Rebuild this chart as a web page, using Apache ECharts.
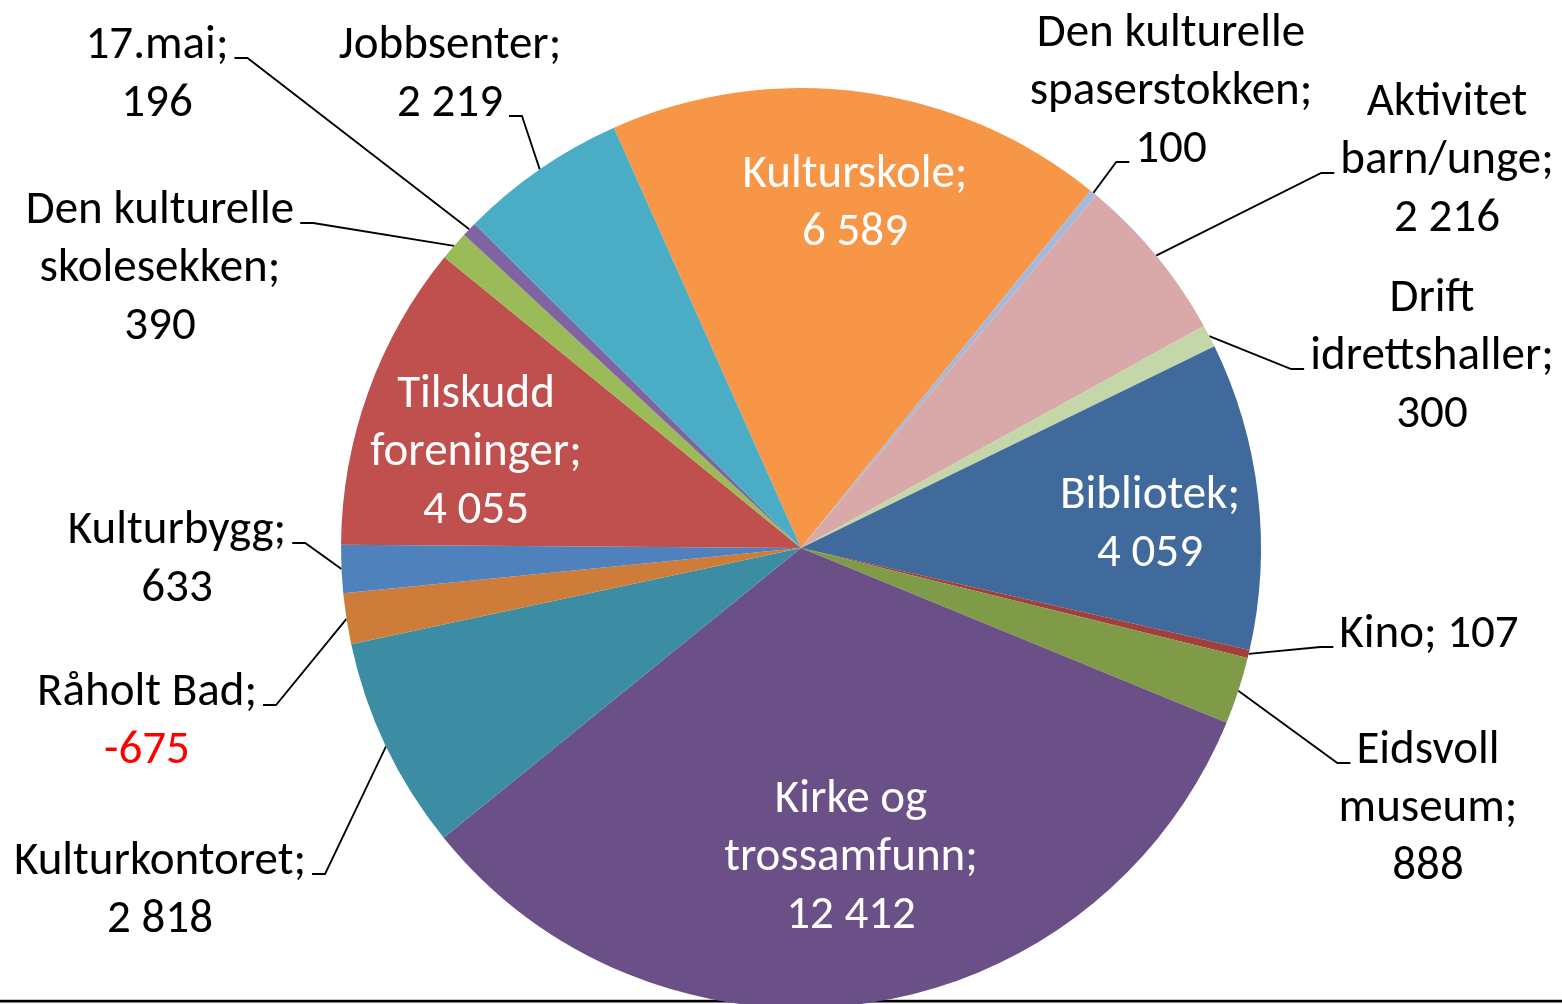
<!DOCTYPE html>
<html>
<head>
<meta charset="utf-8">
<title>Kultur - fordeling</title>
<script src="https://cdn.jsdelivr.net/npm/echarts@6/dist/echarts.min.js"></script>
<style>
  html, body { margin: 0; padding: 0; background: #fff; }
  #chart { width: 1562px; height: 1004px; }
</style>
</head>
<body>
<div id="chart"></div>
<script>
const categories = ['Kulturskole', 'Den kulturelle spaserstokken', 'Aktivitet barn/unge', 'Drift idrettshaller',
    'Bibliotek', 'Kino', 'Eidsvoll museum', 'Kirke og trossamfunn', 'Kulturkontoret', 'Råholt Bad',
    'Kulturbygg', 'Tilskudd foreninger', 'Den kulturelle skolesekken', '17.mai', 'Jobbsenter'];
const values = [6589, 100, 2216, 300, 4059, 107, 888, 12412, 2818, -675, 633, 4055, 390, 196, 2219];
const colors = ['#F79646', '#A7B9DA', '#D9A8A8', '#C4D7A8', '#416A9C', '#A23F3C', '#7F9B48', '#6A5087',
    '#3C8DA3', '#CD7C39', '#4F81BD', '#C0504D', '#9BBB59', '#8064A2', '#4BACC6'];

// where each label block sits (centre), whether the name wraps, and which line the leader hooks onto
const labelCfg = [
    { x: 855, y: 204, inside: true },
    { x: 1171, y: 92, wrap: true, hook: 2 },
    { x: 1447, y: 161, wrap: true, hook: 1 },
    { x: 1432, y: 357, wrap: true, hook: 1 },
    { x: 1150, y: 525, inside: true },
    { x: 1429, y: 635, oneLine: true, hook: 0 },
    { x: 1428, y: 809, wrap: true, hook: 0 },
    { x: 851, y: 858, wrap: true, inside: true },
    { x: 160, y: 891, hook: 0 },
    { x: 147, y: 722, hook: 0 },
    { x: 177, y: 560, hook: 0 },
    { x: 476, y: 453, wrap: true, inside: true },
    { x: 160, y: 269, wrap: true, hook: 0 },
    { x: 157, y: 75, hook: 0 },
    { x: 450, y: 75, hook: 1 }
];

const FONT = 'Carlito, Calibri, Lato, sans-serif';
const FONT_SIZE = 47;
const LINE_H = 58;

function fmt(v) {
    return (v < 0 ? '-' : '') + String(Math.abs(v)).replace(/\B(?=(\d{3})+(?!\d))/g, ' ');
}

function labelLines(i) {
    const cfg = labelCfg[i];
    const name = categories[i];
    let lines;
    if (cfg.wrap) {
        const k = name.lastIndexOf(' ');
        lines = [name.slice(0, k), name.slice(k + 1) + ';'];
    } else {
        lines = [name + ';'];
    }
    if (cfg.oneLine) lines[lines.length - 1] += ' ' + fmt(values[i]);
    else lines.push(fmt(values[i]));
    return lines;
}

const ctx = document.createElement('canvas').getContext('2d');
ctx.font = FONT_SIZE + 'px ' + FONT;

const chart = echarts.init(document.getElementById('chart'));

const data = categories.map((name, i) => {
    const inside = !!labelCfg[i].inside;
    return {
        name: name,
        value: Math.abs(values[i]),
        itemStyle: { color: colors[i] },
        label: { position: inside ? 'inside' : 'outside', color: inside ? '#fff' : '#000' },
        labelLine: { show: !inside }
    };
});

const option = {
    animation: false,
    graphic: [
        { type: 'rect', z: 0, shape: { x: 0, y: 999, width: 1562, height: 1 }, style: { fill: '#c8c8c8' } },
        { type: 'rect', z: 0, shape: { x: 0, y: 1000, width: 1562, height: 2.5 }, style: { fill: '#000' } }
    ],
    series: [{
        type: 'pie',
        center: [801, 548],
        radius: 460,
        startAngle: 114,
        clockwise: true,
        avoidLabelOverlap: false,
        emphasis: { disabled: true },
        itemStyle: { borderWidth: 0 },
        data: data,
        label: {
            fontFamily: FONT,
            fontSize: FONT_SIZE,
            lineHeight: LINE_H,
            formatter: function (p) {
                const lines = labelLines(p.dataIndex);
                if (values[p.dataIndex] < 0) {
                    lines[lines.length - 1] = '{neg|' + lines[lines.length - 1] + '}';
                }
                return lines.join('\n');
            },
            rich: {
                neg: { color: '#ff0000', fontFamily: FONT, fontSize: FONT_SIZE, lineHeight: LINE_H }
            }
        },
        labelLine: {
            show: true,
            length: 10,
            length2: 10,
            lineStyle: { color: '#000', width: 1.8 }
        },
        labelLayout: function (p) {
            const cfg = labelCfg[p.dataIndex];
            const res = { x: cfg.x, y: cfg.y, align: 'center', verticalAlign: 'middle' };
            if (cfg.inside || !p.labelLinePoints) return res;
            const lines = labelLines(p.dataIndex);
            const w = ctx.measureText(lines[cfg.hook]).width;
            const top = cfg.y - lines.length * LINE_H / 2;
            const hy = top + cfg.hook * LINE_H + LINE_H / 2 + 12;
            const a = p.labelLinePoints[0];
            const dir = a[0] < cfg.x ? -1 : 1;
            const ex = cfg.x + dir * (w / 2 + 6);
            const bx = ex + dir * 13;
            res.labelLinePoints = [a, [bx, hy], [ex, hy]];
            return res;
        }
    }]
};

chart.setOption(option);
</script>
</body>
</html>
